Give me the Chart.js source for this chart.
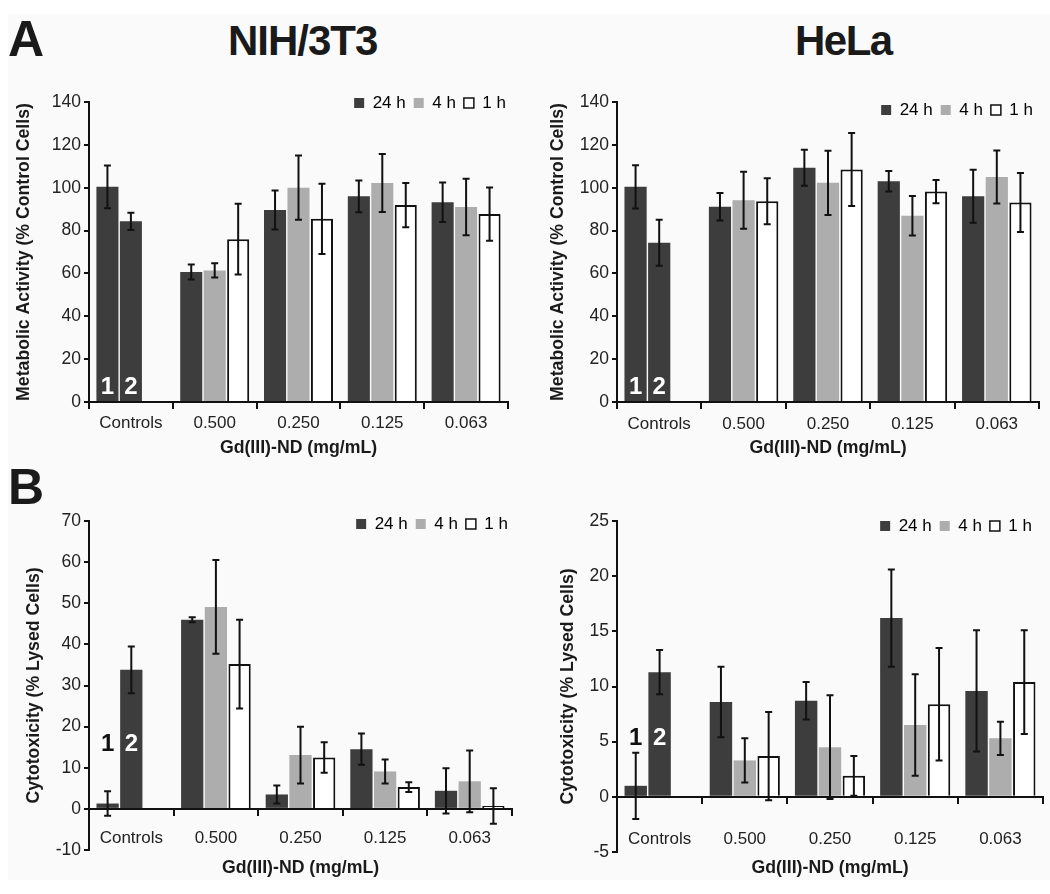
<!DOCTYPE html>
<html>
<head>
<meta charset="utf-8">
<script src="https://cdn.jsdelivr.net/npm/chart.js@4.4.1/dist/chart.umd.min.js"></script>
<style>
  html, body { margin: 0; padding: 0; width: 1050px; height: 894px; overflow: hidden; background: #fff; font-family: 'Liberation Sans', Arial, sans-serif; }
  #sheet { position: absolute; left: 8px; top: 14px; width: 1042px; height: 866px; background: #fafafa; }
  canvas { position: absolute; }
  .hdr { position: absolute; font-weight: bold; line-height: 1; color: #1a1a1a; white-space: nowrap; }
</style>
</head>
<body>
<div id="sheet"></div>
<div class="hdr" style="left:8px;top:14px;font-size:50px">A</div>
<div class="hdr" style="left:8px;top:462px;font-size:50px">B</div>
<div class="hdr" style="left:228px;top:20px;font-size:42px;letter-spacing:-1px">NIH/3T3</div>
<div class="hdr" style="left:795px;top:20px;font-size:42px;letter-spacing:-1.5px">HeLa</div>

<canvas id="nihMet" width="520" height="397" style="left:0;top:60px"></canvas>
<canvas id="helaMet" width="520" height="397" style="left:530px;top:60px"></canvas>
<canvas id="nihCyto" width="524" height="437" style="left:0;top:480px"></canvas>
<canvas id="helaCyto" width="520" height="452" style="left:530px;top:480px"></canvas>

<script>
const categories = ['Controls', '0.500', '0.250', '0.125', '0.063'];
const seriesNames = ['24 h', '4 h', '1 h'];
// Controls slot: 24 h column holds control 1, 4 h column holds control 2

// A - NIH/3T3 metabolic activity
const nihMet24 = [100.4, 60.7, 89.6, 96.0, 93.2];
const nihMet4 = [84.3, 61.4, 100.0, 102.2, 91.0];
const nihMet1 = [null, 76.0, 85.5, 91.9, 87.7];
const nihMetErr24 = [10.0, 3.5, 9.1, 7.4, 9.2];
const nihMetErr4 = [4.0, 3.3, 15.0, 13.5, 13.2];
const nihMetErr1 = [null, 16.5, 16.4, 10.3, 12.4];

// A - HeLa metabolic activity
const helaMet24 = [100.4, 91.1, 109.3, 103.0, 96.0];
const helaMet4 = [74.3, 94.2, 102.3, 86.9, 105.0];
const helaMet1 = [null, 93.7, 108.5, 98.2, 93.1];
const helaMetErr24 = [10.1, 6.4, 8.4, 4.8, 12.4];
const helaMetErr4 = [10.7, 13.3, 15.0, 9.2, 12.4];
const helaMetErr1 = [null, 10.7, 17.0, 5.4, 13.8];

// B - NIH/3T3 cytotoxicity
const nihCyto24 = [1.3, 46.0, 3.5, 14.5, 4.4];
const nihCyto4 = [33.8, 49.1, 13.1, 9.1, 6.7];
const nihCyto1 = [null, 35.2, 12.5, 5.3, 0.7];
const nihCytoErr24 = [3.0, 0.6, 2.2, 3.8, 5.5];
const nihCytoErr4 = [5.7, 11.4, 6.9, 2.9, 7.5];
const nihCytoErr1 = [null, 10.8, 3.7, 1.2, 4.3];

// B - HeLa cytotoxicity
const helaCyto24 = [1.0, 8.6, 8.7, 16.2, 9.6];
const helaCyto4 = [11.3, 3.3, 4.5, 6.5, 5.3];
const helaCyto1 = [null, 3.7, 1.9, 8.4, 10.4];
const helaCytoErr24 = [3.0, 3.2, 1.7, 4.4, 5.5];
const helaCytoErr4 = [2.0, 2.0, 4.7, 4.6, 1.5];
const helaCytoErr1 = [null, 4.0, 1.8, 5.1, 4.7];

const DARK = '#3d3d3d';
const GRAY = '#adadad';
const FILLS = [DARK, GRAY, '#ffffff'];
const INK = '#111111';

Chart.defaults.font.family = "'Liberation Sans', Arial, sans-serif";
Chart.defaults.color = '#222';

// error bars drawn from each dataset's "errors" array
const errorBars = {
    id: 'errorBars',
    afterDatasetsDraw(chart) {
        const ctx = chart.ctx;
        const y = chart.scales.y;
        ctx.save();
        ctx.strokeStyle = INK;
        ctx.lineWidth = 2;
        chart.data.datasets.forEach((ds, i) => {
            chart.getDatasetMeta(i).data.forEach((bar, j) => {
                const v = ds.data[j], e = ds.errors[j];
                if (v == null || e == null) return;
                const top = y.getPixelForValue(v + e);
                const bot = y.getPixelForValue(v - e);
                ctx.beginPath();
                ctx.moveTo(bar.x, top); ctx.lineTo(bar.x, bot);
                ctx.moveTo(bar.x - 3.5, top); ctx.lineTo(bar.x + 3.5, top);
                ctx.moveTo(bar.x - 3.5, bot); ctx.lineTo(bar.x + 3.5, bot);
                ctx.stroke();
            });
        });
        ctx.restore();
    }
};

// "1" / "2" markers on the two control bars
function controlMarks(atValue, firstColor) {
    return {
        id: 'controlMarks',
        afterDatasetsDraw(chart) {
            const ctx = chart.ctx;
            const yPix = chart.scales.y.getPixelForValue(atValue);
            ctx.save();
            ctx.font = "bold 24px 'Liberation Sans', Arial, sans-serif";
            ctx.textAlign = 'center';
            ctx.textBaseline = 'middle';
            ['1', '2'].forEach((t, i) => {
                const bar = chart.getDatasetMeta(i).data[0];
                ctx.fillStyle = i === 0 ? firstColor : '#ffffff';
                ctx.fillText(t, bar.x, yPix);
            });
            ctx.restore();
        }
    };
}

// legend takes no layout room; it is moved over the top right of the plot
function pinLegend(top, right) {
    return {
        id: 'pinLegend',
        beforeInit(chart) {
            const legend = chart.legend;
            const fit = legend.fit;
            legend.fit = function () {
                fit.call(this);
                this._fullHeight = this.height;
                this.height = 0;
            };
        },
        afterLayout(chart) {
            const l = chart.legend;
            const w = l.right - l.left;
            l.top = top;
            l.bottom = top + l._fullHeight;
            l.right = right;
            l.left = right - w;
        }
    };
}

function createPanel(p) {
    const ctx = document.getElementById(p.id).getContext('2d');
    const datasets = seriesNames.map((name, i) => ({
        label: name,
        data: p.values[i],
        errors: p.errors[i],
        backgroundColor: c => (i === 1 && c.dataIndex === 0) ? DARK : FILLS[i],
        borderColor: INK,
        borderWidth: i === 2 ? 2 : 0,
        categoryPercentage: 0.84,
        barPercentage: 0.94
    }));

    new Chart(ctx, {
        type: 'bar',
        data: { labels: categories, datasets: datasets },
        options: {
            responsive: false,
            animation: false,
            layout: { padding: { top: p.padTop, right: p.padRight, bottom: p.padBottom, left: 0 } },
            plugins: {
                tooltip: { enabled: false },
                legend: {
                    position: 'top',
                    align: 'end',
                    labels: {
                        boxWidth: 10,
                        boxHeight: 10,
                        padding: 8,
                        color: '#222',
                        font: { size: 17 },
                        generateLabels: () => seriesNames.map((name, i) => ({
                            text: name,
                            fillStyle: FILLS[i],
                            strokeStyle: INK,
                            lineWidth: i === 2 ? 1.5 : 0,
                            hidden: false,
                            datasetIndex: i
                        }))
                    }
                }
            },
            scales: {
                x: {
                    position: { y: 0 },
                    offset: true,
                    grid: { display: true, drawOnChartArea: false, drawTicks: true, tickLength: 6, color: INK, lineWidth: 2, offset: true },
                    border: { display: true, color: INK, width: 2 },
                    ticks: { color: '#222', font: { size: 17 }, padding: p.labelPad, maxRotation: 0, autoSkip: false },
                    title: { display: true, text: 'Gd(III)-ND (mg/mL)', color: '#1a1a1a', font: { size: 17.7, weight: 'bold' }, padding: 0 },
                    afterFit: s => { s.height = p.xH; }
                },
                y: {
                    min: p.min,
                    max: p.max,
                    grid: { drawOnChartArea: false, tickLength: 5, color: INK, lineWidth: 2 },
                    border: { color: INK, width: 2 },
                    ticks: { stepSize: p.step, color: '#222', font: { size: 17.5 }, padding: 3 },
                    title: { display: true, text: p.yTitle, color: '#1a1a1a', font: { size: 17.7, weight: 'bold' }, padding: { top: p.titlePad, bottom: 0 } },
                    afterFit: s => { s.width = p.axisW; }
                }
            }
        },
        plugins: [pinLegend(p.legendTop, p.legendRight), errorBars, controlMarks(p.markAt, p.firstMark)]
    });
}

document.addEventListener('DOMContentLoaded', function() {
    createPanel({
        id: 'nihMet', yTitle: 'Metabolic Activity (% Control Cells)', min: 0, max: 140, step: 20,
        values: [nihMet24, nihMet4, nihMet1], errors: [nihMetErr24, nihMetErr4, nihMetErr1],
        axisW: 89, titlePad: 13.5, padTop: 42, padRight: 12, padBottom: 55,
        legendTop: 26.5, legendRight: 514,
        xH: 57, labelPad: 5, markAt: 6.8, firstMark: '#ffffff'
    });
    createPanel({
        id: 'helaMet', yTitle: 'Metabolic Activity (% Control Cells)', min: 0, max: 140, step: 20,
        values: [helaMet24, helaMet4, helaMet1], errors: [helaMetErr24, helaMetErr4, helaMetErr1],
        axisW: 87, titlePad: 17.5, padTop: 42, padRight: 11, padBottom: 55,
        legendTop: 33.5, legendRight: 511,
        xH: 57, labelPad: 6, markAt: 6.8, firstMark: '#ffffff'
    });
    createPanel({
        id: 'nihCyto', yTitle: 'Cytotoxicity (% Lysed Cells)', min: -10, max: 70, step: 10,
        values: [nihCyto24, nihCyto4, nihCyto1], errors: [nihCytoErr24, nihCytoErr4, nihCytoErr1],
        axisW: 89, titlePad: 23.5, padTop: 41, padRight: 12, padBottom: 67,
        legendTop: 27.5, legendRight: 516,
        xH: 70, labelPad: 13, markAt: 15.8, firstMark: INK
    });
    createPanel({
        id: 'helaCyto', yTitle: 'Cytotoxicity (% Lysed Cells)', min: -5, max: 25, step: 5,
        values: [helaCyto24, helaCyto4, helaCyto1], errors: [helaCytoErr24, helaCytoErr4, helaCytoErr1],
        axisW: 87, titlePad: 27.5, padTop: 41, padRight: 7, padBottom: 80,
        legendTop: 29.5, legendRight: 510,
        xH: 82, labelPad: 26, markAt: 5.3, firstMark: INK
    });
});
</script>
</body>
</html>
